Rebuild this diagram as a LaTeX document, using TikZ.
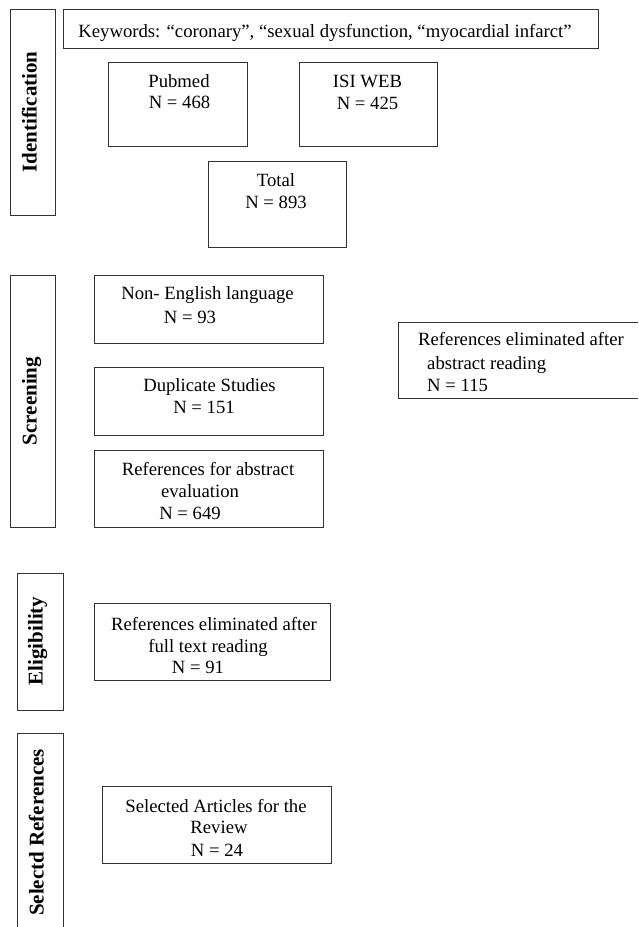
\documentclass[tikz,border=0pt]{standalone}
\usepackage{fontspec}
\setmainfont{Liberation Serif}
\begin{document}
\begin{tikzpicture}[x=1pt,y=-1pt,
  box/.style={draw=black!80, line width=0.8pt, anchor=north west, inner sep=0pt, outer sep=0pt},
  txt/.style={anchor=base, inner sep=0pt, font=\fontsize{18.7}{22}\selectfont, text=black},
  txtl/.style={txt, anchor=base west},
  side/.style={anchor=base, inner sep=0pt, rotate=90, font=\fontsize{21}{25}\selectfont\bfseries, text=black}]
\useasboundingbox (0,0) rectangle (638,927);
\clip (0,0) rectangle (638,927);
% stage boxes
\node[box, minimum width=45pt, minimum height=206pt] (idside) at (10,9) {};
\node[box, minimum width=45pt, minimum height=252pt] (scrside) at (10,275) {};
\node[box, minimum width=46pt, minimum height=137pt] (eligside) at (17,573) {};
\node[box, minimum width=46pt, minimum height=220pt] (selside) at (17,733) {};
\node[side] (idlab) at (36.5,112) {Identification};
\node[side] (scrlab) at (36.5,401) {Screening};
\node[side] (eliglab) at (42.5,641) {Eligibility};
\node[side] (sellab) at (43.5,832.5) {Selectd References};
% boxes
\node[box, minimum width=535pt, minimum height=39pt] (kw) at (63,9) {};
\node[box, minimum width=139pt, minimum height=84pt] (pub) at (108,62) {};
\node[box, minimum width=138pt, minimum height=84pt] (isi) at (299,62) {};
\node[box, minimum width=138pt, minimum height=86pt] (tot) at (208,161) {};
\node[box, minimum width=229pt, minimum height=68pt] (nonen) at (94,275) {};
\node[box, minimum width=229pt, minimum height=68pt] (dup) at (94,367) {};
\node[box, minimum width=229pt, minimum height=77pt] (refabs) at (94,450) {};
\node[box, minimum width=260pt, minimum height=76pt] (elimabs) at (398,322) {};
\node[box, minimum width=236pt, minimum height=77pt] (elimfull) at (94,603) {};
\node[box, minimum width=229pt, minimum height=77pt] (selart) at (102,786) {};
% texts
\node[txt] (kwt) at (325,37) {Keywords: “coronary”, “sexual dysfunction, “myocardial infarct”};
\node[txt] (pubt1) at (179,87) {Pubmed};
\node[txt] (pubt2) at (179.5,108) {N = 468};
\node[txt] (isit1) at (367.5,87) {ISI WEB};
\node[txt] (isit2) at (367.5,109) {N = 425};
\node[txt] (tott1) at (276,186) {Total};
\node[txt] (tott2) at (276,208) {N = 893};
\node[txt] (nonent1) at (207.5,299) {Non- English language};
\node[txt] (nonent2) at (190,323) {N = 93};
\node[txt] (dupt1) at (209.5,391) {Duplicate Studies};
\node[txt] (dupt2) at (204,413) {N = 151};
\node[txt] (refabst1) at (208,475) {References for abstract};
\node[txt] (refabst2) at (200,497) {evaluation};
\node[txt] (refabst3) at (190,519) {N = 649};
\node[txtl] (elimabst1) at (418,345) {References eliminated after};
\node[txtl] (elimabst2) at (427,369) {abstract reading};
\node[txtl] (elimabst3) at (427,391) {N = 115};
\node[txt] (elimfullt1) at (214,630) {References eliminated after};
\node[txt] (elimfullt2) at (208,652) {full text reading};
\node[txt] (elimfullt3) at (198,673) {N = 91};
\node[txt] (selartt1) at (216,812) {Selected Articles for the};
\node[txt] (selartt2) at (219,833) {Review};
\node[txt] (selartt3) at (217,856) {N = 24};
\end{tikzpicture}
\end{document}
